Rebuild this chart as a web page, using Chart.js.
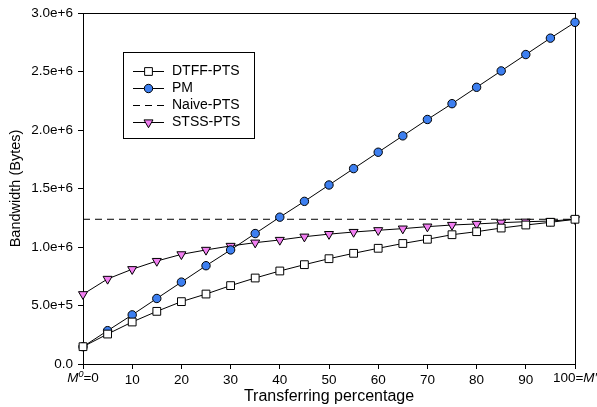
<!DOCTYPE html>
<html>
<head>
<meta charset="utf-8">
<script src="https://cdn.jsdelivr.net/npm/chart.js@4/dist/chart.umd.min.js"></script>
<style>
  body { margin: 0; background: #fff; }
  #wrap { width: 597px; height: 407px; position: relative; }
</style>
</head>
<body>
<div id="wrap"><canvas id="chart"></canvas></div>
<script>
// Datos
const xValues = [0, 5, 10, 15, 20, 25, 30, 35, 40, 45, 50, 55, 60, 65, 70, 75, 80, 85, 90, 95, 100];
const dtffPts = [0.148e6, 0.256e6, 0.359e6, 0.45e6, 0.533e6, 0.598e6, 0.67e6, 0.735e6, 0.795e6, 0.849e6, 0.90e6,
                 0.946e6, 0.989e6, 1.03e6, 1.066e6, 1.105e6, 1.131e6, 1.162e6, 1.188e6, 1.211e6, 1.237e6];
const pm = [0.148e6, 0.285e6, 0.42e6, 0.56e6, 0.70e6, 0.84e6, 0.975e6, 1.115e6, 1.255e6, 1.39e6, 1.53e6,
            1.67e6, 1.81e6, 1.95e6, 2.09e6, 2.225e6, 2.365e6, 2.505e6, 2.645e6, 2.785e6, 2.92e6];
const naivePts = [1.237e6, 1.237e6];
const naiveX = [0, 100];
const stssPts = [0.596e6, 0.727e6, 0.81e6, 0.88e6, 0.937e6, 0.975e6, 1.009e6, 1.037e6, 1.06e6, 1.088e6, 1.11e6,
                 1.128e6, 1.143e6, 1.157e6, 1.174e6, 1.188e6, 1.197e6, 1.208e6, 1.216e6, 1.222e6, 1.237e6];
const seriesNames = ["DTFF-PTS", "PM", "Naive-PTS", "STSS-PTS"];
// primera y última etiqueta se dibujan aparte (M en cursiva)
const xTickLabels = ["", "10", "20", "30", "40", "50", "60", "70", "80", "90", ""];
const yTickLabels = ["0.0", "5.0e+5", "1.0e+6", "1.5e+6", "2.0e+6", "2.5e+6", "3.0e+6"];

const FONT = "'Liberation Sans', Arial, sans-serif";
const TICK_SIZE = 13.5;
const PM_BLUE = "#3d7ff0";
const STSS_PINK = "#f27ff2";

function toPoints(xs, ys) {
  return ys.map((y, i) => ({ x: xs[i], y }));
}

// Estilos por serie
const styles = [
  { pointStyle: "rect", backgroundColor: "#fff", radius: 5.5, rotation: 0, dash: [] },
  { pointStyle: "circle", backgroundColor: PM_BLUE, radius: 4.2, rotation: 0, dash: [] },
  { pointStyle: false, backgroundColor: "#000", radius: 0, rotation: 0, dash: [7, 5] },
  { pointStyle: "triangle", backgroundColor: STSS_PINK, radius: 5.2, rotation: 180, dash: [] }
];
const seriesData = [
  toPoints(xValues, dtffPts),
  toPoints(xValues, pm),
  toPoints(naiveX, naivePts),
  toPoints(xValues, stssPts)
];

// Marco completo del área
const framePlugin = {
  id: "frame",
  beforeDatasetsDraw(chart) {
    const { ctx, chartArea: a } = chart;
    ctx.save();
    ctx.strokeStyle = "#000";
    ctx.lineWidth = 1;
    ctx.strokeRect(Math.round(a.left) + 0.5, Math.round(a.top) + 0.5, Math.round(a.right - a.left), Math.round(a.bottom - a.top));
    ctx.restore();
  }
};

// Dibuja trozos de texto con fuentes distintas, centrados en cx
function drawParts(ctx, parts, cx, y) {
  let total = 0;
  parts.forEach(p => { ctx.font = p.font; p.w = ctx.measureText(p.text).width; total += p.w; });
  let x = cx - total / 2;
  parts.forEach(p => {
    ctx.font = p.font;
    ctx.fillText(p.text, x, y + (p.dy || 0));
    x += p.w;
  });
}

// Etiquetas de los extremos del eje x
const endLabelsPlugin = {
  id: "endLabels",
  afterDraw(chart) {
    const ctx = chart.ctx;
    const xs = chart.scales.x;
    const y = xs.top + 14;
    const normal = TICK_SIZE + "px " + FONT;
    const ital = "italic " + TICK_SIZE + "px " + FONT;
    const sup = "italic 9px " + FONT;
    ctx.save();
    ctx.fillStyle = "#000";
    ctx.textAlign = "left";
    ctx.textBaseline = "middle";
    drawParts(ctx, [
      { text: "M", font: ital },
      { text: "0", font: sup, dy: -4 },
      { text: "=0", font: normal }
    ], xs.getPixelForValue(0), y);
    drawParts(ctx, [
      { text: "100=", font: normal },
      { text: "M", font: ital },
      { text: "\u2032", font: ital }
    ], xs.getPixelForValue(100), y);
    ctx.restore();
  }
};

// Leyenda dentro del gráfico
const legendPlugin = {
  id: "boxLegend",
  afterDraw(chart) {
    const ctx = chart.ctx;
    ctx.save();
    ctx.fillStyle = "#fff";
    ctx.fillRect(123.5, 52.5, 131, 86);
    ctx.strokeStyle = "#000";
    ctx.lineWidth = 1;
    ctx.strokeRect(123.5, 52.5, 131, 86);
    const rows = [71, 88, 105, 122];
    seriesNames.forEach((name, i) => {
      const st = styles[i];
      const y = rows[i] + 0.5;
      ctx.beginPath();
      ctx.setLineDash(st.dash);
      ctx.strokeStyle = "#000";
      ctx.moveTo(133, y);
      ctx.lineTo(164, y);
      ctx.stroke();
      ctx.setLineDash([]);
      if (st.pointStyle) {
        ctx.fillStyle = st.backgroundColor;
        ctx.strokeStyle = "#000";
        ctx.lineWidth = 1;
        Chart.helpers.drawPoint(ctx, { pointStyle: st.pointStyle, radius: st.radius, rotation: st.rotation, borderWidth: 1 }, 148.5, y);
      }
      ctx.fillStyle = "#000";
      ctx.font = "14px " + FONT;
      ctx.textBaseline = "middle";
      ctx.textAlign = "left";
      ctx.fillText(name, 172, y);
    });
    ctx.restore();
  }
};

new Chart(document.getElementById("chart"), {
  type: "line",
  data: {
    datasets: seriesNames.map((name, i) => ({
      label: name,
      data: seriesData[i],
      borderColor: "#000",
      borderWidth: 1,
      borderDash: styles[i].dash,
      backgroundColor: styles[i].backgroundColor,
      pointStyle: styles[i].pointStyle,
      pointRadius: styles[i].radius,
      pointRotation: styles[i].rotation,
      pointBorderColor: "#000",
      pointBorderWidth: 1,
      pointBackgroundColor: styles[i].backgroundColor,
      tension: 0,
      fill: false,
      clip: false
    }))
  },
  options: {
    responsive: true,
    maintainAspectRatio: false,
    animation: false,
    layout: { padding: { left: 0, right: 22, top: 13, bottom: 0 } },
    plugins: { legend: { display: false }, tooltip: { enabled: false } },
    scales: {
      x: {
        type: "linear",
        min: 0,
        max: 100,
        grid: { drawOnChartArea: false, drawTicks: true, tickLength: 5, color: "#000" },
        border: { display: true, color: "#000" },
        ticks: {
          stepSize: 10,
          color: "#000",
          padding: 3,
          maxRotation: 0,
          autoSkip: false,
          font: { family: FONT, size: TICK_SIZE },
          callback: v => xTickLabels[Math.round(v / 10)]
        },
        title: { display: true, text: "Transferring percentage", color: "#000", font: { family: FONT, size: 16 }, padding: { top: 0, bottom: 1 } },
        afterFit(s) { s.height = 43; s.paddingLeft = 0; s.paddingRight = 0; }
      },
      y: {
        min: 0,
        max: 3e6,
        grid: { drawOnChartArea: false, drawTicks: true, tickLength: 5, color: "#000" },
        border: { display: true, color: "#000" },
        ticks: {
          stepSize: 5e5,
          color: "#000",
          padding: 5,
          font: { family: FONT, size: TICK_SIZE },
          callback: v => yTickLabels[Math.round(v / 5e5)]
        },
        title: { display: true, text: "Bandwidth (Bytes)", color: "#000", font: { family: FONT, size: 14.5 }, padding: { top: 7, bottom: 0 } },
        afterFit(s) { s.width = 83; s.paddingTop = 0; s.paddingBottom = 0; }
      }
    }
  },
  plugins: [framePlugin, legendPlugin, endLabelsPlugin]
});
</script>
</body>
</html>
